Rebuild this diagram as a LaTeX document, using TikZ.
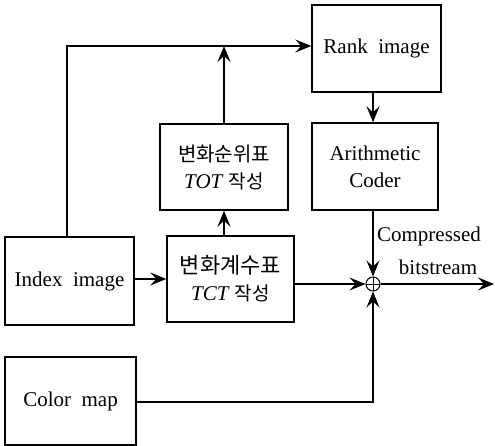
\documentclass[tikz,border=0pt]{standalone}
\usepackage{fontspec}
\setmainfont{Liberation Serif}
\newfontfamily\kofont{Noto Sans CJK KR}
\usetikzlibrary{arrows.meta}
\begin{document}
\begin{tikzpicture}[x=1pt,y=-1pt,
  box/.style={draw,line width=1.4pt,inner sep=0pt,align=center,font=\fontsize{21}{27}\selectfont},
  conn/.style={line width=1.4pt,-{Stealth[length=16pt,width=13pt,inset=6pt]}},
  lbl/.style={font=\fontsize{21}{24}\selectfont,inner sep=0pt}]
\useasboundingbox (0,0) rectangle (495,446);
\node[box,minimum width=129pt,minimum height=87pt] (rank) at (376.5,48.5) {Rank\ \ image};
\node[box,minimum width=126pt,minimum height=87pt] (arith) at (375,166.5) {Arithmetic\\Coder};
\node[box,minimum width=128pt,minimum height=86pt] (tot) at (224,167) {{\kofont\fontsize{20}{27}\selectfont 변화순위표}\\\textit{TOT} {\kofont\fontsize{19}{27}\selectfont 작성}};
\node[box,minimum width=127pt,minimum height=86pt] (tct) at (230.5,279) {{\kofont\fontsize{22}{28}\selectfont 변화계수표}\\\textit{TCT} {\kofont\fontsize{19}{27}\selectfont 작성}};
\node[box,minimum width=129pt,minimum height=88pt] (index) at (69.5,281) {Index\ \ image};
\node[box,minimum width=131pt,minimum height=88pt] (cmap) at (70.5,401) {Color\ \ map};
\node[draw,circle,line width=1pt,minimum size=14pt,inner sep=0pt,
  path picture={\draw[line width=1pt] (path picture bounding box.north) -- (path picture bounding box.south)
  (path picture bounding box.west) -- (path picture bounding box.east);}] (sum) at (373,284) {};
\coordinate (out) at (494,284);
\coordinate (corner) at (67,46);
\coordinate (cmcorner) at (373,402);
\draw[conn] (index.north -| corner) -- (corner) -- (rank.west |- corner);
\draw[conn] (tot.north) -- (tot.center |- corner);
\draw[conn] (tct.north -| tot.center) -- (tot.south);
\draw[conn] (rank.south -| sum) -- (arith.north -| sum);
\draw[conn] (arith.south -| sum) -- (sum.north);
\draw[conn] (index.east |- tct.west) -- (tct.west);
\draw[conn] (tct.east |- sum) -- (sum.west);
\draw[conn] (cmap.east |- cmcorner) -- (cmcorner) -- (sum.south);
\draw[conn] (sum.east) -- (out);
\node[lbl,anchor=center] (l1) at (429,236) {Compressed};
\node[lbl,anchor=center] (l2) at (438,267) {bitstream};
\end{tikzpicture}
\end{document}
